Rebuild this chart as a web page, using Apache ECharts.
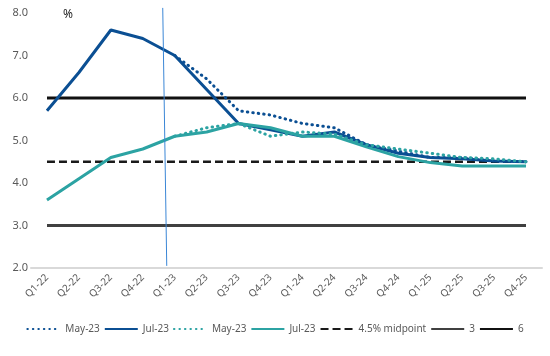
<!DOCTYPE html>
<html><head><meta charset="utf-8">
<script src="https://cdn.jsdelivr.net/npm/echarts@6/dist/echarts.min.js"></script>
<style>html,body{margin:0;padding:0;background:#fff}#c{width:550px;height:356px}</style>
</head><body><div id="c"></div>
<script>
var categories = ['Q1-22','Q2-22','Q3-22','Q4-22','Q1-23','Q2-23','Q3-23','Q4-23','Q1-24','Q2-24','Q3-24','Q4-24','Q1-25','Q2-25','Q3-25','Q4-25'];
var yTicks = [2, 3, 4, 5, 6, 7, 8];
var headlineMay = [null, null, null, null, 7.0, 6.45, 5.7, 5.6, 5.4, 5.3, 4.9, 4.75, 4.6, 4.6, 4.52, 4.5];
var headlineJul = [5.7, 6.6, 7.6, 7.4, 7.0, 6.2, 5.4, 5.25, 5.1, 5.2, 4.9, 4.7, 4.6, 4.57, 4.52, 4.5];
var coreMay = [null, null, null, null, 5.1, 5.3, 5.4, 5.1, 5.2, 5.15, 4.9, 4.8, 4.7, 4.6, 4.57, 4.5];
var coreJul = [3.6, 4.1, 4.6, 4.8, 5.1, 5.2, 5.4, 5.3, 5.1, 5.1, 4.85, 4.62, 4.48, 4.4, 4.4, 4.4];
var midpoint = [4.5, 4.5, 4.5, 4.5, 4.5, 4.5, 4.5, 4.5, 4.5, 4.5, 4.5, 4.5, 4.5, 4.5, 4.5, 4.5];
var lower = [3, 3, 3, 3, 3, 3, 3, 3, 3, 3, 3, 3, 3, 3, 3, 3];
var upper = [6, 6, 6, 6, 6, 6, 6, 6, 6, 6, 6, 6, 6, 6, 6, 6];
var marker = [[3.625, 8.12], [3.75, 2.05]];

var DARK = '#0b4f93', TEAL = '#2ca3a3';
var chart = echarts.init(document.getElementById('c'));
var font = 'Noto Sans';
function line(name, data, color, width, type, z) {
  return {name: name, type: 'line', data: data, symbol: 'none', z: z || 2,
    lineStyle: {color: color, width: width, type: type, cap: (Array.isArray(type) && type[0] < 2) ? 'round' : 'butt'},
    itemStyle: {color: color}, animation: false};
}
chart.setOption({
  animation: false,
  textStyle: {fontFamily: font},
  title: {text: '%', left: 58, top: 4, textStyle: {fontSize: 12, fontWeight: 'normal', color: '#262626', fontFamily: font}},
  grid: {left: 31, right: 8, top: 13, bottom: 88},
  legend: {
    bottom: 17, left: 'center', itemWidth: 33, itemHeight: 8, itemGap: 4,
    itemStyle: {color: 'transparent', borderWidth: 0, opacity: 0},
    textStyle: {fontSize: 10, color: '#595959', fontFamily: font},
    data: ['May-23', 'Jul-23', 'May-23\u200b', 'Jul-23\u200b', '4.5% midpoint', '3', '6']
  },
  xAxis: [{
    type: 'category', data: categories, boundaryGap: true,
    axisLine: {lineStyle: {color: '#d9d9d9', width: 2}}, axisTick: {show: false},
    axisLabel: {rotate: 45, color: '#595959', fontSize: 10, margin: 8, interval: 0, fontFamily: font}
  }, {
    type: 'value', min: -0.5, max: 15.5, show: false
  }],
  yAxis: {
    type: 'value', min: yTicks[0], max: yTicks[yTicks.length - 1], interval: 1,
    splitLine: {show: false}, axisLine: {show: false}, axisTick: {show: false},
    axisLabel: {color: '#595959', fontSize: 11, margin: 3, fontFamily: font, formatter: function (v) { return v.toFixed(1); }}
  },
  series: [
    line('May-23', headlineMay, DARK, 3, [0.5, 5], 5),
    line('Jul-23', headlineJul, DARK, 3, 'solid', 4),
    line('May-23\u200b', coreMay, TEAL, 3, [0.5, 5], 5),
    line('Jul-23\u200b', coreJul, TEAL, 3, 'solid', 4),
    line('4.5% midpoint', midpoint, '#1a1a1a', 2.5, [8, 4], 3),
    line('3', lower, '#404040', 3, 'solid', 3),
    line('6', upper, '#111111', 3, 'solid', 3),
    {type: 'line', xAxisIndex: 1, data: marker, symbol: 'none', clip: false, z: 6, silent: true,
      lineStyle: {color: '#3a86d6', width: 1}, animation: false, legendHoverLink: false}
  ]
});
</script></body></html>
